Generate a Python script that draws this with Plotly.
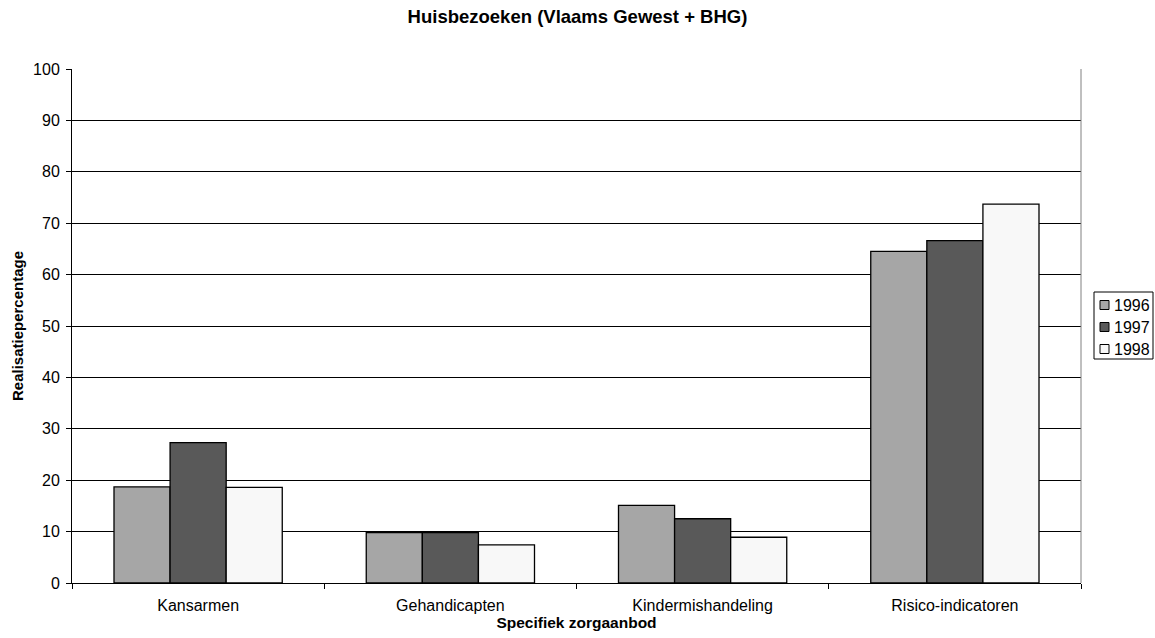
import plotly.graph_objects as go

categories = ["Kansarmen", "Gehandicapten", "Kindermishandeling", "Risico-indicatoren"]
series_names = ["1996", "1997", "1998"]
values_1996 = [18.7, 9.8, 15.1, 64.5]
values_1997 = [27.3, 9.8, 12.5, 66.6]
values_1998 = [18.6, 7.4, 8.9, 73.7]
y_ticks = [0, 10, 20, 30, 40, 50, 60, 70, 80, 90, 100]

colors = ["#a6a6a6", "#595959", "#f8f8f8"]
series_values = [values_1996, values_1997, values_1998]

W, H = 1155, 638
L, T = 72, 69
PW, PH = 1009, 514
R, B = W - L - PW, H - T - PH


def px(x):
    """page pixel x -> paper coordinate"""
    return (x - L) / PW


def py(y):
    """page pixel y -> paper coordinate"""
    return (T + PH - y) / PH


fig = go.Figure()
for name, vals, col in zip(series_names, series_values, colors):
    fig.add_trace(go.Bar(
        x=categories, y=vals, name=name,
        marker=dict(color=col, line=dict(color="#000000", width=1.3)),
    ))

font_family = "Liberation Sans, Arial, sans-serif"
fig.update_layout(
    width=W, height=H,
    paper_bgcolor="white", plot_bgcolor="white",
    barmode="group", bargap=0.333, bargroupgap=0,
    margin=dict(l=L, r=R, t=T, b=B, autoexpand=False),
    font=dict(family=font_family, size=16, color="#000000"),
    title=dict(text="<b>Huisbezoeken (Vlaams Gewest + BHG)</b>", x=0.5, xanchor="center",
               y=1 - 17 / H, yanchor="middle", font=dict(size=18.5, family=font_family)),
    showlegend=False,
)
fig.update_xaxes(
    showline=True, linecolor="#000000", linewidth=1, mirror=False,
    ticks="outside", tickson="boundaries", ticklen=5, tickcolor="#000000",
    ticklabelstandoff=8,
    showgrid=False,
    title=dict(text="<b>Specifiek zorgaanbod</b>", font=dict(size=15.5), standoff=3),
    tickfont=dict(size=16),
)
fig.update_yaxes(
    range=[0, 100], tickvals=y_ticks, showline=True, linecolor="#000000", linewidth=1,
    ticks="outside", ticklen=5, tickcolor="#000000",
    ticklabelstandoff=3,
    showgrid=True, gridcolor="#000000", gridwidth=1, zeroline=False,
    title=dict(text="<b>Realisatiepercentage</b>", font=dict(size=15), standoff=5),
    tickfont=dict(size=16),
)
# right border of the plot area
fig.add_shape(type="line", xref="paper", yref="paper", x0=1, x1=1, y0=0, y1=1,
              line=dict(color="#808080", width=1))

# compact legend (Excel style)
fig.add_shape(type="rect", xref="paper", yref="paper",
              x0=px(1094), x1=px(1153), y0=py(359), y1=py(292),
              line=dict(color="#000000", width=1), fillcolor="white")
row_y = [305, 327, 349]
for name, col, yy in zip(series_names, colors, row_y):
    fig.add_shape(type="rect", xref="paper", yref="paper",
                  x0=px(1100), x1=px(1109), y0=py(yy + 4.5), y1=py(yy - 4.5),
                  line=dict(color="#000000", width=1), fillcolor=col)
    fig.add_annotation(text=name, xref="paper", yref="paper", x=px(1112), y=py(yy),
                       xanchor="left", yanchor="middle", showarrow=False,
                       font=dict(size=16, family=font_family, color="#000000"))

page_css = (
    "document.body.style.margin='0';"
    "document.body.style.overflow='hidden';"
    "document.documentElement.style.overflow='hidden';"
)
fig.write_html("out.html", post_script=page_css, config={"displayModeBar": False})
